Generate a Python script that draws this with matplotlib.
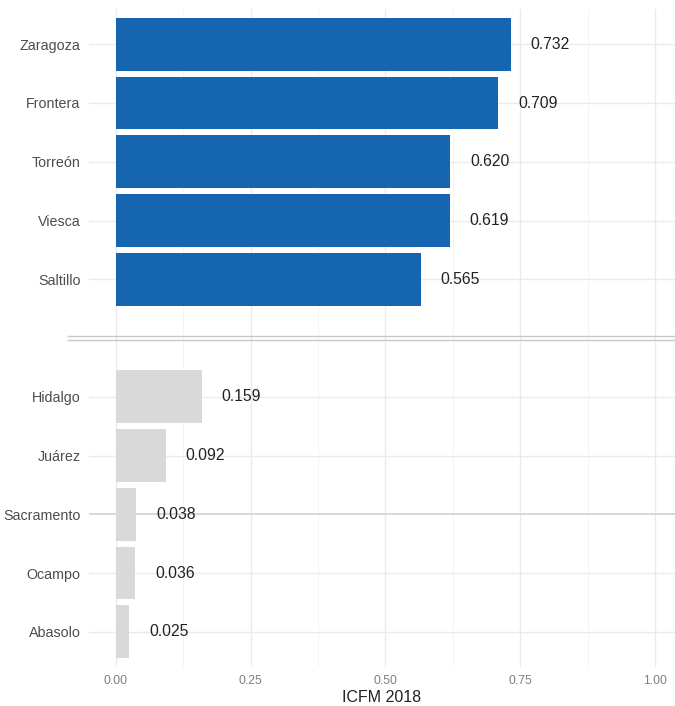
import matplotlib
matplotlib.use("Agg")
import matplotlib.pyplot as plt
import numpy as np

plt.rcParams['font.family'] = ['Liberation Sans', 'DejaVu Sans']

top_names = ["Zaragoza", "Frontera", "Torreón", "Viesca", "Saltillo"]
top_vals = [0.732, 0.709, 0.620, 0.619, 0.565]
bottom_names = ["Hidalgo", "Juárez", "Sacramento", "Ocampo", "Abasolo"]
bottom_vals = [0.159, 0.092, 0.038, 0.036, 0.025]
xticks = [0.0, 0.25, 0.50, 0.75, 1.00]
xticklabels = ["0.00", "0.25", "0.50", "0.75", "1.00"]
xlabel = "ICFM 2018"

blue = "#1565b0"
grey = "#d9d9d9"

fig = plt.figure(figsize=(6.75, 7.06), dpi=100)
ax = fig.add_axes([89/675, 1 - 667/706, (675-89)/675, (667-9)/706])

n = len(top_names) + 1 + len(bottom_names)
names = bottom_names[::-1] + [""] + top_names[::-1]
vals = bottom_vals[::-1] + [None] + top_vals[::-1]
colors = [grey]*len(bottom_names) + [None] + [blue]*len(top_names)
ypos = np.arange(1, n + 1)

for y, v, c in zip(ypos, vals, colors):
    if v is None:
        continue
    ax.barh(y, v, height=0.9, color=c, zorder=2)
    ax.text(v + 0.037, y, f"{v:.3f}", va="center", ha="left",
            fontsize=11.3, color="#222222", zorder=3)

ax.set_xlim(-0.05, 1.0 + 20/539)
ax.set_ylim(0.4, n + 0.6)

# gridlines
for x in np.arange(0, 1.01, 0.25):
    ax.axvline(x, color="#ebebeb", lw=1.0, zorder=0)
for x in np.arange(0.125, 1.04, 0.25):
    ax.axvline(x, color="#f3f3f3", lw=0.6, zorder=0)
for y, v, nm in zip(ypos, vals, names):
    if v is None:
        continue
    col = "#d8d8d8" if nm == "Sacramento" else "#ebebeb"
    lw = 1.4 if nm == "Sacramento" else 1.0
    ax.axhline(y, color=col, lw=lw, zorder=0)

# separator double line
sep_y = len(bottom_names) + 1
for dy in (-0.03, 0.03):
    ax.plot([-0.09, 1.1], [sep_y + dy, sep_y + dy], color="#c8c8c8", lw=1.0,
            clip_on=False, zorder=1, solid_capstyle="butt")

ax.set_yticks([y for y, v in zip(ypos, vals) if v is not None])
ax.set_yticklabels([nm for nm, v in zip(names, vals) if v is not None],
                   fontsize=10.3, color="#4d4d4d")
ax.set_xticks(xticks)
ax.set_xticklabels(xticklabels, fontsize=8.8, color="#7f7f7f")
ax.tick_params(axis="both", length=0)
ax.tick_params(axis="y", pad=6)
ax.tick_params(axis="x", pad=6)
ax.set_xlabel(xlabel, fontsize=11.5, color="#222222", labelpad=2)
for s in ax.spines.values():
    s.set_visible(False)
ax.grid(False)

fig.savefig("out.png", dpi=100, facecolor="white")
